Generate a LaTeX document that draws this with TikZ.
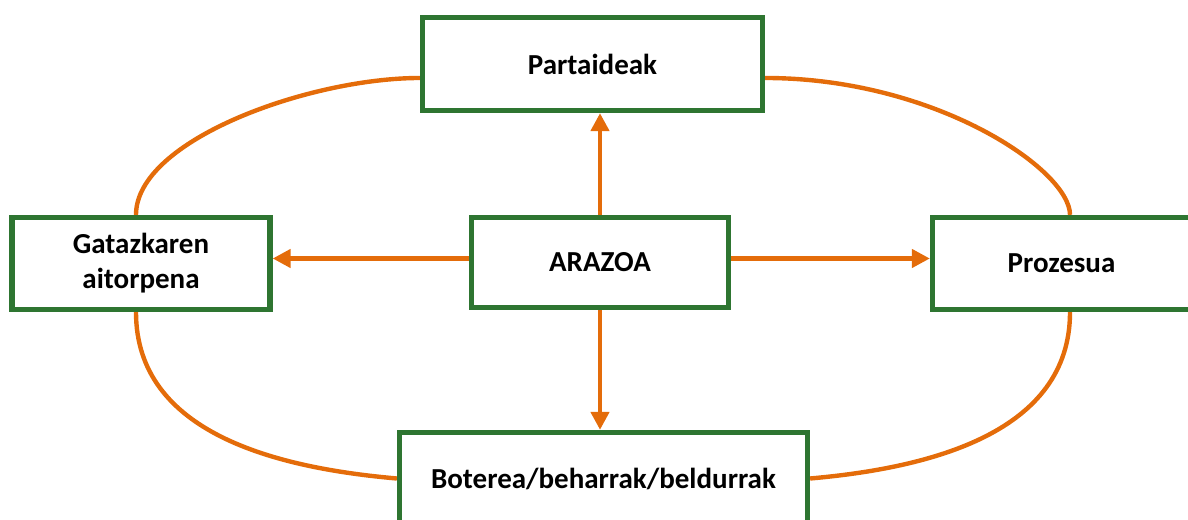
\documentclass[tikz,border=0pt]{standalone}
\usepackage{fontspec}
\setmainfont{Carlito}
\usetikzlibrary{arrows.meta,calc,backgrounds}
\definecolor{boxgreen}{HTML}{2E7531}
\definecolor{arcorange}{HTML}{E46C0A}

\begin{document}
\begin{tikzpicture}

\tikzset{mybox/.style={draw=boxgreen, fill=white, line width=3pt, align=center, text=black, font=\fontsize{16.5}{20}\selectfont\bfseries}}
\tikzset{myarrow/.style={draw=arcorange, line width=2.5pt, -{Triangle[length=0.36cm, width=0.36cm]}}}
\tikzset{myarc/.style={draw=arcorange, line width=2.5pt}}

\clip (0,0) rectangle (23.76,10.4);

\node[mybox, minimum width=6.8cm, minimum height=1.86cm] (partaideak) at (11.85,9.12) {Partaideak};
\node[mybox, minimum width=5.14cm, minimum height=1.8cm] (arazoa) at (12.0,5.15) {ARAZOA};
\node[mybox, minimum width=5.16cm, minimum height=1.84cm] (gatazka) at (2.82,5.13) {Gatazkaren\\aitorpena};
\node[mybox, minimum width=5.16cm, minimum height=1.84cm] (prozesua) at (21.23,5.13) {Prozesua};
\node[mybox, minimum width=8.16cm, minimum height=1.84cm] (boterea) at (12.07,0.83) {Boterea/beharrak/beldurrak};

\begin{scope}[on background layer]
\draw[myarc] ($(gatazka.north)+(-0.1,0)$) .. controls +(0,1.5) and +(-2.2,0) .. ($(partaideak.west)+(0,-0.28)$);
\draw[myarc] ($(gatazka.south)+(-0.1,0)$) to[out=-90, in=175] (boterea.west);
\draw[myarc] ($(partaideak.east)+(0,-0.28)$) .. controls +(3.4,0) and +(0,0.9) .. ($(prozesua.north)+(0.17,0)$);
\draw[myarc] ($(prozesua.south)+(0.17,0)$) to[out=-90, in=5] (boterea.east);

\draw[myarrow] (arazoa.north) -- (arazoa.north |- partaideak.south);
\draw[myarrow] (arazoa.south) -- (arazoa.south |- boterea.north);
\draw[myarrow] ($(arazoa.west)+(0,0.08)$) -- ($(arazoa.west -| gatazka.east)+(0,0.08)$);
\draw[myarrow] ($(arazoa.east)+(0,0.08)$) -- ($(arazoa.east -| prozesua.west)+(0,0.08)$);
\end{scope}

\end{tikzpicture}
\end{document}
